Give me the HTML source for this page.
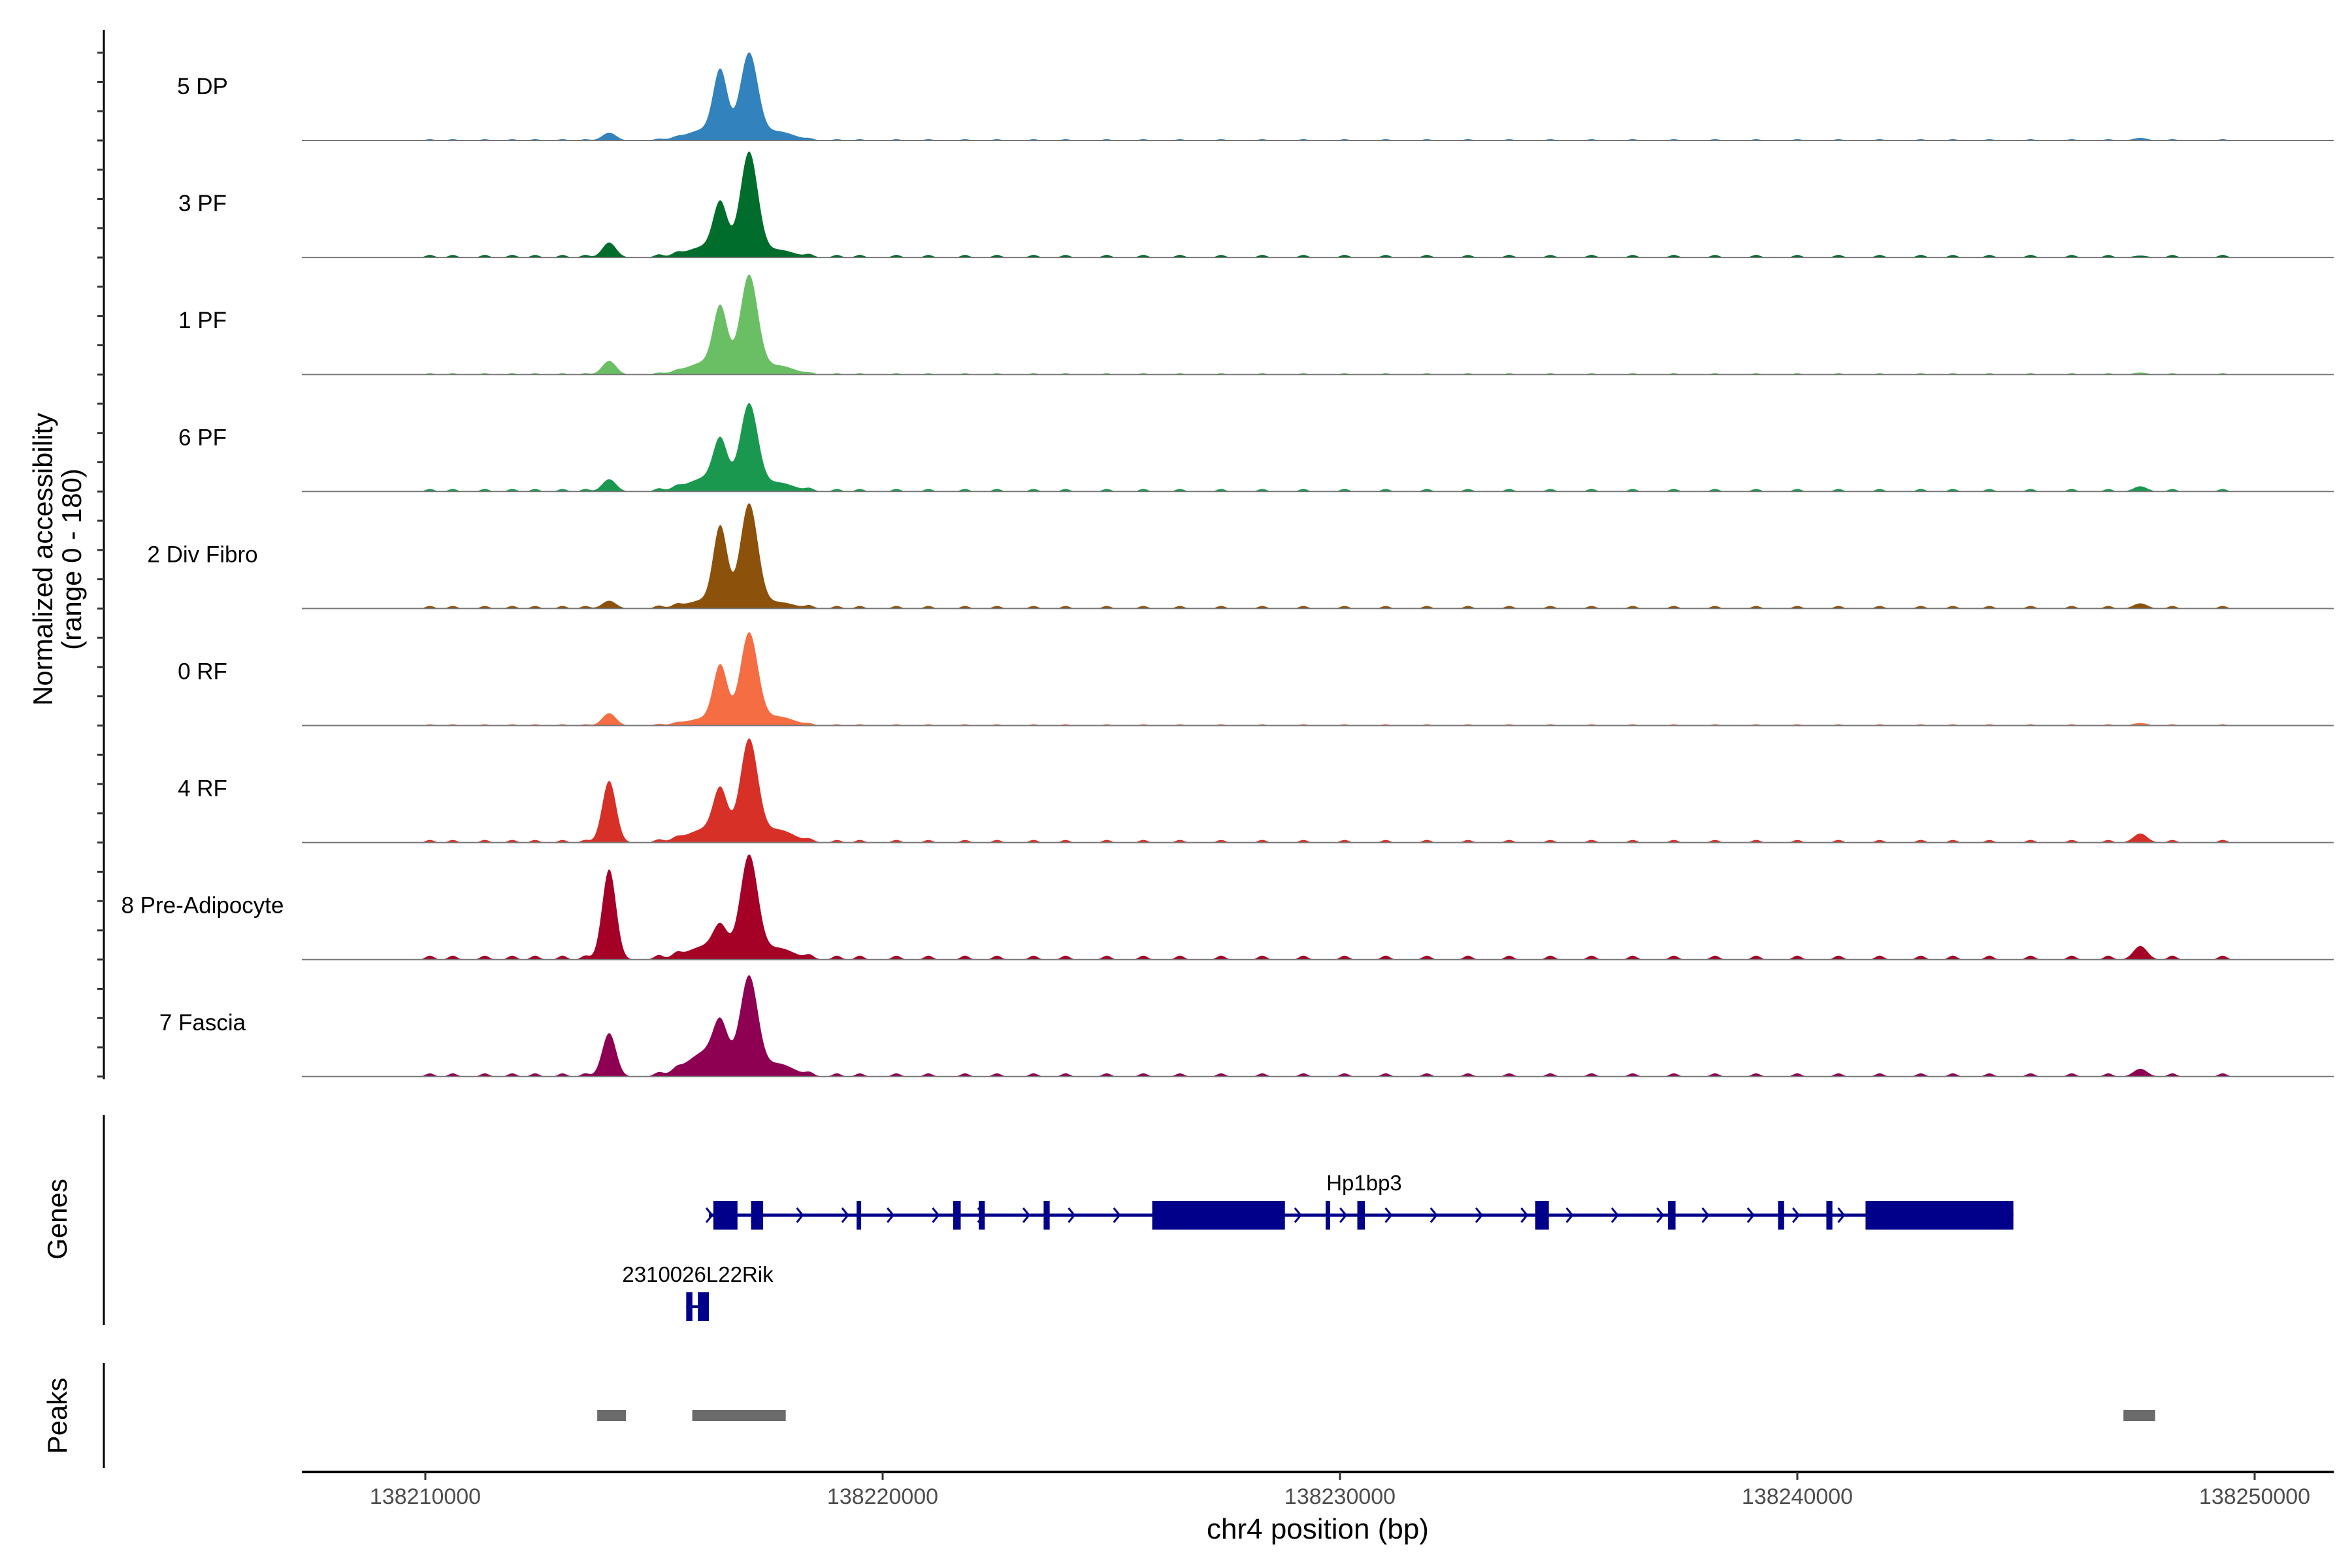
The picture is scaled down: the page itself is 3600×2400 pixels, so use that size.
<!DOCTYPE html>
<html><head><meta charset="utf-8"><style>
html,body{margin:0;padding:0;background:#fff;}
svg{display:block;font-family:"Liberation Sans",sans-serif;}
</style></head><body>
<svg id="chart" width="3600" height="2400" viewBox="0 0 3600 2400" xmlns="http://www.w3.org/2000/svg">
<rect width="3600" height="2400" fill="#fff"/>
<g id="tracks"></g>
<line x1="159" y1="46" x2="159" y2="1652" stroke="#000" stroke-width="3"/>
<g id="yticks"></g>
<text transform="translate(80,856) rotate(-90)" text-anchor="middle" font-size="42">Normalized accessibility</text>
<text transform="translate(124,856) rotate(-90)" text-anchor="middle" font-size="42">(range 0 - 180)</text>
<line x1="159" y1="1707" x2="159" y2="2028" stroke="#000" stroke-width="3"/>
<text transform="translate(102,1866) rotate(-90)" text-anchor="middle" font-size="42">Genes</text>
<g id="genes"></g>
<line x1="159" y1="2086" x2="159" y2="2247" stroke="#000" stroke-width="3"/>
<text transform="translate(102,2167) rotate(-90)" text-anchor="middle" font-size="42">Peaks</text>
<g id="peaks"></g>
<line x1="462" y1="2253" x2="3572" y2="2253" stroke="#000" stroke-width="4"/>
<g id="xticks"></g>
<text x="2017" y="2355" text-anchor="middle" font-size="44">chr4 position (bp)</text>
</svg>
<script>
const trackNames = ["5 DP","3 PF","1 PF","6 PF","2 Div Fibro","0 RF","4 RF","8 Pre-Adipocyte","7 Fascia"];
const trackColors = ["#3182bd","#006d2c","#6abf65","#1b9850","#8c510a","#f46d43","#d73027","#a50026","#8e0152"];
const smallPeak = [12,23,21,19,12,19,95,139,67];
const shoulder = [18,18,20,22,14,12,22,22,40];
const peak1 = [95,72,90,65,116,84,67,37,56];
const peak2 = [130,158,148,130,158,139,153,155,146];
const tailPeak = [14,12,14,14,10,14,20,18,20];
const farPeak = [4,3,3,8,8,4,14,21,12];
const noiseLevel = [2,4,2,4,4,2,4,6,5];
const noisePos = [138210100,138210600,138211300,138211900,138212400,138213000,138213500,138215100,138215500,138218400,138219000,138219500,138220300,138221000,138221800,138222500,138223300,138224000,138224900,138225700,138226500,138227400,138228300,138229200,138230100,138231000,138231900,138232800,138233700,138234600,138235500,138236400,138237300,138238200,138239100,138240000,138240900,138241800,138242700,138243400,138244200,138245100,138246000,138246800,138248200,138249300];

const NS="http://www.w3.org/2000/svg";
const xs = bp => 651 + (bp-138210000)*0.07;
const X0=462, X1=3572, TH=179.1;
const base = i => 215 + i*TH;
function mk(tag,attrs,parent){const e=document.createElementNS(NS,tag);for(const k in attrs)e.setAttribute(k,attrs[k]);parent.appendChild(e);return e;}
const g=document.getElementById('tracks');
function bump(bp,c,s){const d=(bp-c)/s;return Math.exp(-0.5*d*d);}
for(let i=0;i<trackNames.length;i++){
  const b=base(i);
  const tg=mk('g',{},g);
  
  
  let d='M'+X0+' '+b;
  for(let x=X0;x<=X1;x+=2){
    const bp=138210000+(x-651)/0.07;
    let v=smallPeak[i]*bump(bp,138214020,150)+shoulder[i]*bump(bp,138216200,450)+peak1[i]*bump(bp,138216450,150)+peak2[i]*bump(bp,138217080,190)+tailPeak[i]*bump(bp,138217700,350)+farPeak[i]*bump(bp,138247500,150);
    for(const p of noisePos) v+=noiseLevel[i]*bump(bp,p,90);
    d+=' L'+x+' '+(b-Math.min(v,180)/180*TH).toFixed(1);
  }
  d+=' L'+X1+' '+b+' Z';
  const a=mk('path',{d:d,fill:trackColors[i]},tg);
  
  
  const l=mk('line',{x1:X0,x2:X1,y1:b,y2:b,stroke:'#777','stroke-width':2},tg);
  
  
  const t=mk('text',{x:310,y:b-71,'text-anchor':'middle','font-size':35},tg);
  t.textContent=trackNames[i];
  
  
}
const yt=document.getElementById('yticks');
for(let y=base(8);y>50;y-=TH/4){const l=mk('line',{x1:149,x2:159,y1:y,y2:y,stroke:'#333','stroke-width':3},yt);
  
  }

const gg=document.getElementById('genes');
const hpStart=138216200, hpEnd=138244724;
const hpExonStart=[138216298,138217123,138219431,138221542,138222102,138223520,138225894,138229687,138230379,138234270,138237172,138239579,138240635,138241492];
const hpExonEnd=[138216826,138217387,138219530,138221707,138222234,138223652,138228796,138229786,138230544,138234567,138237337,138239711,138240767,138244724];
const rikExonStart=[138215705,138215960];
const rikExonEnd=[138215840,138216200];
const gy=1860;
let l=mk('line',{x1:xs(hpStart),x2:xs(hpEnd),y1:gy,y2:gy,stroke:'#00008b','stroke-width':5},gg);


for(let bp=hpStart;bp<hpEnd;bp+=990){const x=xs(bp);const c=mk('path',{d:`M${x-4} ${gy-11} L${x+5} ${gy} L${x-4} ${gy+11}`,fill:'none',stroke:'#00008b','stroke-width':3},gg);
  
  }
for(let k=0;k<hpExonStart.length;k++){const r=mk('rect',{x:xs(hpExonStart[k]),y:gy-22,width:Math.max(6,xs(hpExonEnd[k])-xs(hpExonStart[k])),height:44,fill:'#00008b'},gg);
  
  }
let t=mk('text',{x:2088,y:1822,'text-anchor':'middle','font-size':33},gg);t.textContent='Hp1bp3';


l=mk('line',{x1:xs(rikExonStart[0]),x2:xs(rikExonEnd[1]),y1:2000,y2:2000,stroke:'#00008b','stroke-width':4},gg);


for(let k=0;k<rikExonStart.length;k++){const r=mk('rect',{x:xs(rikExonStart[k]),y:1978,width:Math.max(7,xs(rikExonEnd[k])-xs(rikExonStart[k])),height:44,fill:'#00008b'},gg);
  
  }
t=mk('text',{x:1068,y:1962,'text-anchor':'middle','font-size':33},gg);t.textContent='2310026L22Rik';



const pg=document.getElementById('peaks');
const peakStart=[138213759,138215837,138247131];
const peakEnd=[138214386,138217881,138247824];
for(let k=0;k<peakStart.length;k++){const r=mk('rect',{x:xs(peakStart[k]),y:2158,width:xs(peakEnd[k])-xs(peakStart[k]),height:17,fill:'#6b6b6b'},pg);
  
  }

const xTicks=[138210000,138220000,138230000,138240000,138250000];
const xg=document.getElementById('xticks');
for(const v of xTicks){const x=xs(v);
  const tl=mk('line',{x1:x,x2:x,y1:2253,y2:2265,stroke:'#333','stroke-width':3},xg);
  
  
  const tx=mk('text',{x:x,y:2302,'text-anchor':'middle','font-size':34,fill:'#4d4d4d'},xg);tx.textContent=v;
  
  }
</script>
</body></html>
